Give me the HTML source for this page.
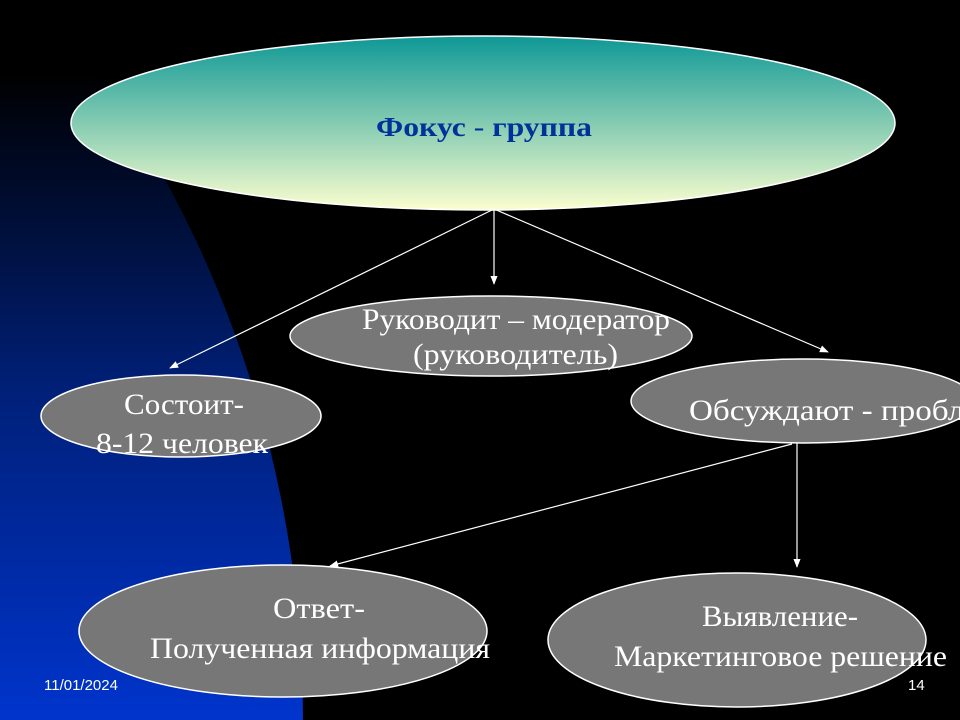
<!DOCTYPE html>
<html><head><meta charset="utf-8"><style>html,body{margin:0;padding:0;background:#000;width:960px;height:720px;overflow:hidden}</style></head>
<body>
<svg width="960" height="720" viewBox="0 0 960 720" xmlns="http://www.w3.org/2000/svg">
<defs>
<linearGradient id="bg" x1="0" y1="0" x2="0" y2="720" gradientUnits="userSpaceOnUse">
<stop offset="0" stop-color="#000"/><stop offset="0.1" stop-color="#000"/><stop offset="0.55" stop-color="#00207a"/><stop offset="1" stop-color="#0034cc"/>
</linearGradient>
<linearGradient id="top" x1="0" y1="0" x2="0" y2="1">
<stop offset="0" stop-color="#0e9896"/><stop offset="1" stop-color="#fbfecf"/>
</linearGradient>
<marker id="ar" viewBox="0 0 10 10" refX="9" refY="5" markerWidth="9" markerHeight="9" orient="auto" markerUnits="userSpaceOnUse">
<path d="M0,1 L10,5 L0,9 z" fill="#fff"/></marker>
<clipPath id="cc"><circle cx="-825" cy="720" r="1128"/></clipPath>
</defs>
<rect width="960" height="720" fill="#000"/>
<rect x="0" y="0" width="303" height="720" fill="url(#bg)" clip-path="url(#cc)"/>

<ellipse cx="483" cy="123" rx="412" ry="87" fill="url(#top)" stroke="#fff" stroke-width="1.5"/>
<text x="376" y="136" textLength="216" lengthAdjust="spacingAndGlyphs" font-family="Liberation Serif, serif" font-weight="bold" font-size="27" fill="#003399">Фокус <tspan font-weight="normal">-</tspan> группа</text>

<g stroke="#fff" stroke-width="1.2" fill="none" marker-end="url(#ar)">
<line x1="494" y1="209" x2="170" y2="368"/>
<line x1="494" y1="209" x2="494" y2="284"/>
<line x1="494" y1="209" x2="828" y2="352"/>
<line x1="797" y1="443" x2="797" y2="567"/>
<line x1="792" y1="444" x2="330" y2="566"/>
</g>

<g fill="#777" stroke="#fff" stroke-width="1.5">
<ellipse cx="491" cy="336" rx="201" ry="40"/>
<ellipse cx="181" cy="416" rx="140" ry="41"/>
<ellipse cx="803" cy="401" rx="172" ry="42"/>
<ellipse cx="283" cy="631" rx="204" ry="66"/>
<ellipse cx="737" cy="640" rx="189" ry="67"/>
</g>

<g font-family="Liberation Serif, serif" font-size="30" fill="#fff">
<text x="362" y="329" textLength="308" lengthAdjust="spacingAndGlyphs">Руководит – модератор</text>
<text x="413" y="364" textLength="205" lengthAdjust="spacingAndGlyphs">(руководитель)</text>
<text x="124" y="414" textLength="120" lengthAdjust="spacingAndGlyphs">Состоит-</text>
<text x="96" y="453" textLength="172" lengthAdjust="spacingAndGlyphs">8-12 человек</text>
<text x="689" y="420" textLength="290" lengthAdjust="spacingAndGlyphs">Обсуждают - пробле</text>
<text x="273" y="618" textLength="92" lengthAdjust="spacingAndGlyphs">Ответ-</text>
<text x="150" y="658" textLength="340" lengthAdjust="spacingAndGlyphs">Полученная информация</text>
<text x="702" y="626" textLength="156" lengthAdjust="spacingAndGlyphs">Выявление-</text>
<text x="614" y="666" textLength="333" lengthAdjust="spacingAndGlyphs">Маркетинговое решение</text>
</g>
<g font-family="Liberation Sans, sans-serif" font-size="15" fill="#fff">
<text x="44" y="690">11/01/2024</text>
<text x="908" y="690">14</text>
</g>
</svg>
</body></html>
